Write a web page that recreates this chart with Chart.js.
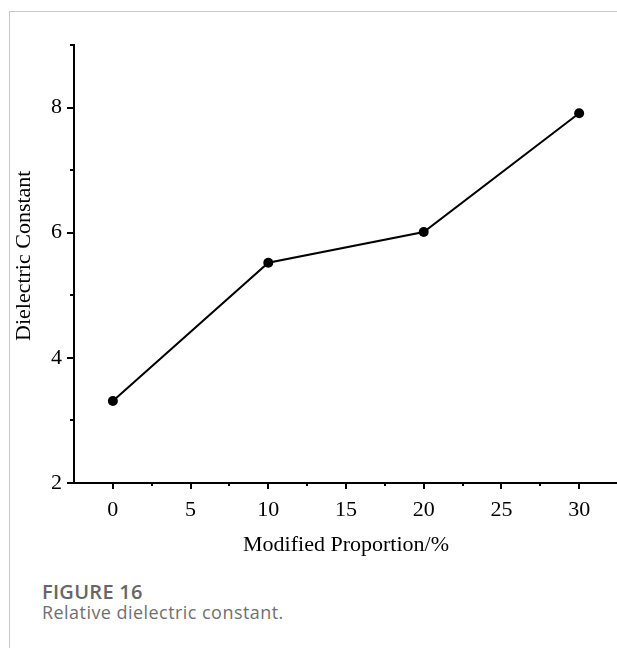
<!DOCTYPE html>
<html>
<head>
<meta charset="utf-8">
<script src="https://cdn.jsdelivr.net/npm/chart.js@4/dist/chart.umd.min.js"></script>
<style>
  html, body { margin: 0; padding: 0; background: #fff; overflow: hidden; }
  body { width: 617px; height: 648px; position: relative; }
  .frame { position: absolute; left: 9px; top: 11px; right: -5px; bottom: -5px;
           border-top: 1px solid #c8c8c8; border-left: 1px solid #c8c8c8; }
  #chart { position: absolute; left: 0; top: 0; }
  .caption { position: absolute; left: 42px; top: 582px; font-family: "Open Sans", sans-serif;
             font-size: 18px; line-height: 20px; color: #707070; letter-spacing: 0.45px; }
  .caption b { font-weight: 600; color: #666; font-size: 20px; letter-spacing: 0.3px; }
</style>
</head>
<body>
<div class="frame"></div>
<canvas id="chart" width="640" height="570"></canvas>
<div class="caption"><b>FIGURE 16</b><br>Relative dielectric constant.</div>

<script>
// Modified proportion (%) vs dielectric constant
const proportions = [0, 10, 20, 30];
const dielectric = [3.31, 5.52, 6.01, 7.91];

const xMin = -2.5, xMax = 32.5, xStep = 2.5;
const yMin = 2, yMax = 9, yStep = 1;

const serif = '"Liberation Serif", "Times New Roman", serif';

// Outward tick marks: long for labelled ticks, short for the ones in between
const tickMarks = {
    id: 'tickMarks',
    afterDraw(chart) {
        const ctx = chart.ctx;
        const xs = chart.scales.x, ys = chart.scales.y;
        ctx.save();
        ctx.strokeStyle = '#000';
        ctx.lineWidth = 2;
        xs.ticks.forEach(t => {
            if (t.value <= xMin) return;
            const px = Math.round(xs.getPixelForValue(t.value));
            const len = t.value % 5 === 0 ? 6 : 3;
            ctx.beginPath();
            ctx.moveTo(px, xs.top);
            ctx.lineTo(px, xs.top + len);
            ctx.stroke();
        });
        ys.ticks.forEach(t => {
            const py = Math.round(ys.getPixelForValue(t.value));
            const len = t.value % 2 === 0 ? 7 : 4;
            ctx.beginPath();
            ctx.moveTo(ys.right, py);
            ctx.lineTo(ys.right - len, py);
            ctx.stroke();
        });
        ctx.restore();
    }
};

new Chart(document.getElementById('chart'), {
    type: 'line',
    data: {
        datasets: [{
            data: proportions.map((p, i) => ({ x: p, y: dielectric[i] })),
            borderColor: '#000',
            backgroundColor: '#000',
            borderWidth: 2,
            pointRadius: 5,
            pointBackgroundColor: '#000',
            pointBorderWidth: 0,
            tension: 0
        }]
    },
    options: {
        responsive: false,
        animation: false,
        layout: { padding: { top: 45, right: 22, bottom: 7, left: 0 } },
        plugins: { legend: { display: false }, tooltip: { enabled: false } },
        scales: {
            x: {
                type: 'linear',
                min: xMin,
                max: xMax,
                grid: { display: false },
                border: { display: true, color: '#000', width: 2 },
                ticks: {
                    stepSize: xStep,
                    autoSkip: false,
                    maxRotation: 0,
                    padding: 6,
                    color: '#000',
                    font: { family: serif, size: 22 },
                    callback: v => (v % 5 === 0 ? v : '')
                },
                title: {
                    display: true,
                    text: 'Modified Proportion/%',
                    color: '#000',
                    font: { family: serif, size: 22 },
                    padding: { top: 0, bottom: 5 }
                },
                afterFit: s => { s.height = 80; }
            },
            y: {
                min: yMin,
                max: yMax,
                grid: { display: false },
                border: { display: true, color: '#000', width: 2 },
                ticks: {
                    stepSize: yStep,
                    autoSkip: false,
                    padding: 4,
                    color: '#000',
                    font: { family: serif, size: 22 },
                    callback: v => (v % 2 === 0 ? v : '')
                },
                title: {
                    display: true,
                    // leading spaces lift the rotated title a little above the axis midpoint
                    text: '   Dielectric Constant',
                    color: '#000',
                    font: { family: serif, size: 22 },
                    padding: { top: 11, bottom: 0 }
                },
                afterFit: s => { s.width = 74; }
            }
        }
    },
    plugins: [tickMarks]
});
</script>
</body>
</html>
